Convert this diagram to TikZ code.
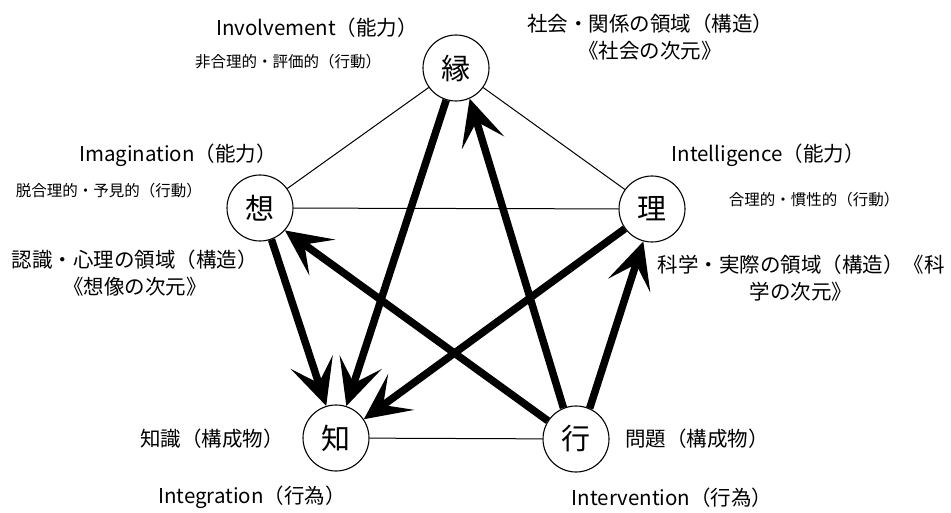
\documentclass[tikz,border=0pt]{standalone}
\usepackage{fontspec}
\setmainfont{Noto Sans CJK JP}
\usetikzlibrary{arrows.meta}
\tikzset{
  circ/.style={circle,draw,line width=1.1pt,minimum size=66pt,inner sep=0pt,font=\fontsize{29}{29}\selectfont},
  thin/.style={line width=1pt},
  thick/.style={line width=7.5pt,-{Stealth[length=46pt,width=44pt,inset=22pt]}},
  biglab/.style={font=\fontsize{20.5}{27}\selectfont,inner sep=0pt,align=center},
  smalllab/.style={font=\fontsize{15.5}{18}\selectfont,inner sep=0pt}
}
\begin{document}
\begin{tikzpicture}[x=1pt,y=-1pt]
\useasboundingbox (0,0) rectangle (951,513);
\node[circ] (yuan) at (456,68) {縁};
\node[circ] (sou) at (260,208) {想};
\node[circ] (ri) at (652,209) {理};
\node[circ] (chi) at (336,438) {知};
\node[circ] (gyo) at (576,439) {行};
\draw[thin] (yuan) -- (sou);
\draw[thin] (yuan) -- (ri);
\draw[thin] (sou) -- (ri);
\draw[thin] (chi) -- (gyo);
\draw[thick] (yuan.-107) -- (chi.72);
\draw[thick] (sou.-70) -- (chi.107);
\draw[thick] (ri.-144) -- (chi.34);
\draw[thick] (gyo.112) -- (yuan.-66);
\draw[thick] (gyo.147) -- (sou.-42);
\draw[thick] (gyo.66) -- (ri.-105);
\node[biglab] (l1) at (317,28) {Involvement（能力）};
\node[smalllab] (l2) at (288,62) {非合理的・評価的（行動）};
\node[biglab] (l3) at (650,37) {社会・関係の領域（構造）\\《社会の次元》};
\node[biglab] (l4) at (178,155) {Imagination（能力）};
\node[smalllab] (l5) at (109,191) {脱合理的・予見的（行動）};
\node[biglab] (l6) at (768,155) {Intelligence（能力）};
\node[smalllab] (l7) at (814,200) {合理的・慣性的（行動）};
\node[biglab] (l8) at (135,273) {認識・心理の領域（構造）\\《想像の次元》};
\node[biglab] (l9) at (801,278) {科学・実際の領域（構造）《科\\学の次元》};
\node[biglab] (l10) at (212,439) {知識（構成物）};
\node[biglab] (l11) at (252,497) {Integration（行為）};
\node[biglab] (l12) at (697,439) {問題（構成物）};
\node[biglab] (l13) at (672,498) {Intervention（行為）};
\end{tikzpicture}
\end{document}
